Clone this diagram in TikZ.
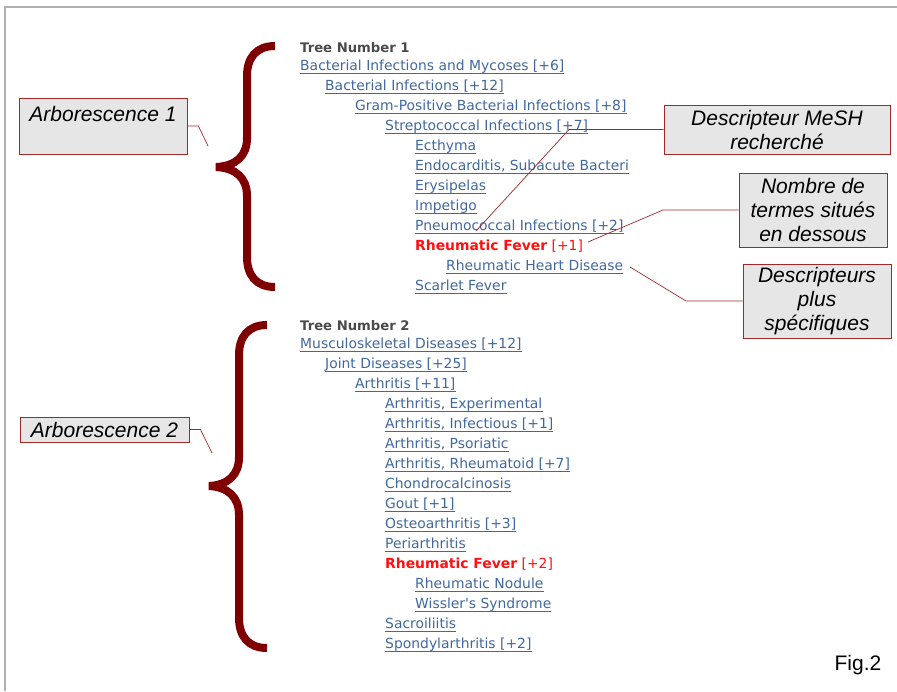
\documentclass[tikz,border=0pt]{standalone}
\usepackage{fontspec}
\setmainfont{Liberation Sans}
\newfontfamily\treefont{DejaVu Sans}
\usepackage{tikz}

\definecolor{linkblue}{HTML}{41689E}
\definecolor{hitred}{HTML}{FF1010}
\definecolor{headgray}{HTML}{4A4A4A}
\definecolor{bracered}{HTML}{7F0000}
\definecolor{calloutred}{HTML}{A02828}
\definecolor{calloutfill}{HTML}{E6E6E6}
\definecolor{framegray}{HTML}{B0B0B0}

\tikzset{
  treetext/.style={anchor=base west,inner sep=0pt,font=\treefont\fontsize{13.9}{16}\selectfont},
  link/.style={treetext,text=linkblue,
    append after command={([yshift=-3.5pt]\tikzlastnode.base west) edge[draw=linkblue,line width=1.6pt] ([yshift=-3.5pt]\tikzlastnode.base east)}},
  hit/.style={treetext,text=hitred},
  treehead/.style={treetext,text=headgray,font=\treefont\bfseries\fontsize{13.2}{16}\selectfont},
  callout/.style={draw=calloutred,fill=calloutfill,line width=0.8pt,inner sep=0pt,align=center,
    font=\itshape\fontsize{21}{24}\selectfont},
  pointer/.style={draw=calloutred,line width=0.7pt},
  brace/.style={draw=bracered,line width=8pt},
}

\begin{document}
\begin{tikzpicture}[x=1pt,y=-1pt]
\useasboundingbox (0,0) rectangle (897,691);
\draw[framegray,line width=2pt] (5,691) -- (5,7) -- (897,7);

% first tree
\node[treehead] (tn1) at (300,52) {Tree Number 1};
\node[link] (bim) at (300,70) {Bacterial Infections and Mycoses [+6]};
\node[link] (bi) at (325,90) {Bacterial Infections [+12]};
\node[link] (gpbi) at (355,110) {Gram-Positive Bacterial Infections [+8]};
\node[link] (strep) at (385,130) {Streptococcal Infections [+7]};
\node[link] (ecth) at (415,150) {Ecthyma};
\node[link] (endo) at (415,170) {Endocarditis, Subacute Bacteri};
\node[link] (erys) at (415,190) {Erysipelas};
\node[link] (impe) at (415,210) {Impetigo};
\node[link] (pneu) at (415,230) {Pneumococcal Infections [+2]};
\node[hit] (rf1) at (415,250) {\textbf{Rheumatic Fever} [+1]};
\node[link] (rhd) at (446,270) {Rheumatic Heart Disease};
\node[link] (scar) at (415,290) {Scarlet Fever};

% second tree
\node[treehead] (tn2) at (300,330) {Tree Number 2};
\node[link] (musc) at (300,348) {Musculoskeletal Diseases [+12]};
\node[link] (joint) at (325,368) {Joint Diseases [+25]};
\node[link] (arth) at (355,388) {Arthritis [+11]};
\node[link] (aexp) at (385,408) {Arthritis, Experimental};
\node[link] (ainf) at (385,428) {Arthritis, Infectious [+1]};
\node[link] (apso) at (385,448) {Arthritis, Psoriatic};
\node[link] (arhe) at (385,468) {Arthritis, Rheumatoid [+7]};
\node[link] (chon) at (385,488) {Chondrocalcinosis};
\node[link] (gout) at (385,508) {Gout [+1]};
\node[link] (oste) at (385,528) {Osteoarthritis [+3]};
\node[link] (peri) at (385,548) {Periarthritis};
\node[hit] (rf2) at (385,568) {\textbf{Rheumatic Fever} [+2]};
\node[link] (rnod) at (415,588) {Rheumatic Nodule};
\node[link] (wiss) at (415,608) {Wissler's Syndrome};
\node[link] (sacr) at (385,628) {Sacroiliitis};
\node[link] (spon) at (385,648) {Spondylarthritis [+2]};

% braces
\draw[brace] (275,46) .. controls (256,46) and (247,58) .. (247,76) -- (247,138) .. controls (247,156) and (236,166) .. (216,167) .. controls (236,168) and (247,178) .. (247,196) -- (247,257) .. controls (247,275) and (256,287) .. (275,287);
\draw[brace] (267,325) .. controls (248,325) and (239,337) .. (239,355) -- (239,457) .. controls (239,475) and (228,485) .. (209,486) .. controls (228,487) and (239,497) .. (239,515) -- (239,618) .. controls (239,636) and (248,648) .. (267,648);

% callouts
\node[callout,minimum width=168pt,minimum height=56pt] (arb1) at (103,126) {Arborescence 1\\\mbox{}};
\node[callout,minimum width=169pt,minimum height=25pt] (arb2) at (104.5,429.5) {Arborescence 2};
\node[callout,minimum width=226pt,minimum height=49pt] (mesh) at (777,129.5) {Descripteur MeSH\\recherch\'e};
\node[callout,minimum width=148pt,minimum height=74pt] (nombre) at (813,210) {Nombre de\\termes situ\'es\\en dessous};
\node[callout,minimum width=148pt,minimum height=74pt] (specif) at (817,301) {Descripteurs\\plus\\sp\'ecifiques};

\coordinate (arb1 tip) at (208,146);
\coordinate (arb2 tip) at (212,453);
\coordinate (mesh tip) at (476,231);
\coordinate (nombre tip) at (588,242);
\coordinate (specif tip) at (630,267);
\draw[pointer] (arb1.east) -- ++(11,0) -- (arb1 tip);
\draw[pointer] (arb2.east) -- ++(11,0) -- (arb2 tip);
\draw[pointer] (mesh.west) -- (569,129.5) -- (mesh tip);
\draw[pointer] (nombre.west) -- (663,210) -- (nombre tip);
\draw[pointer] (specif.west) -- (686,301) -- (specif tip);

\node[font=\fontsize{21}{24}\selectfont,inner sep=0pt] (fig) at (858,665) {Fig.2};
\end{tikzpicture}
\end{document}
